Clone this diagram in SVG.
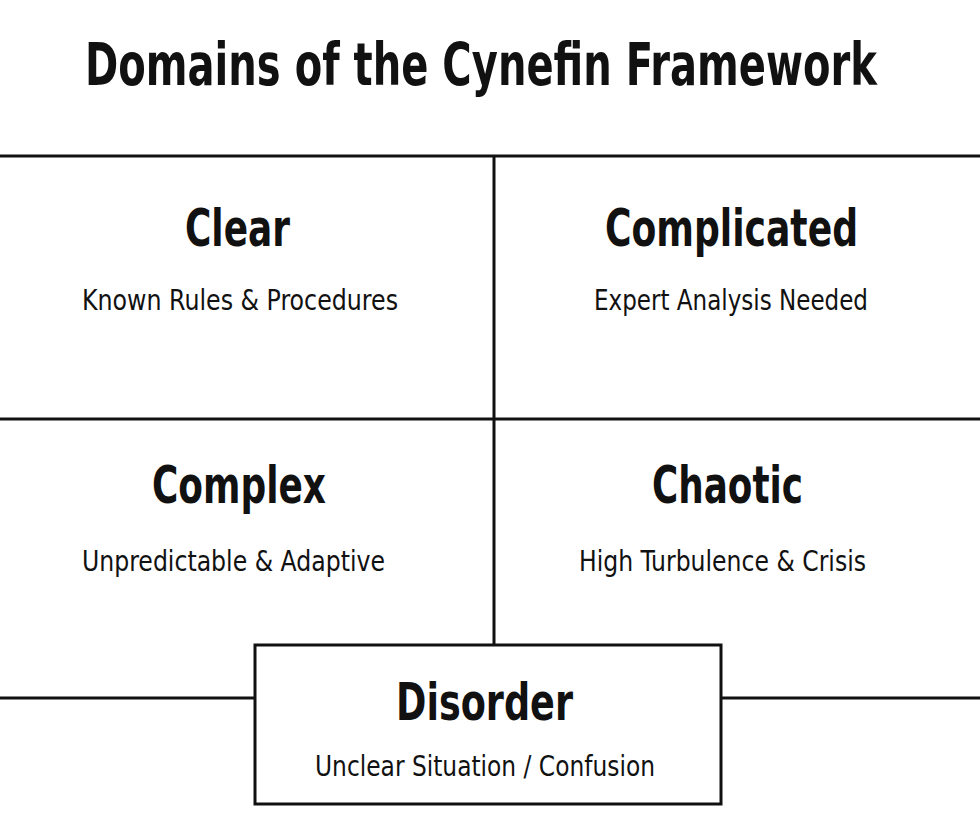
<svg xmlns="http://www.w3.org/2000/svg" width="980" height="820" viewBox="0 0 980 820">
<style>
.t{font-family:"DejaVu Sans Condensed","DejaVu Sans",sans-serif;fill:#111;text-anchor:middle}
.title{font-size:58px;font-weight:bold}
.h{font-size:52px;font-weight:bold}
.s{font-size:29px}
.ln{stroke:#111;stroke-width:3;fill:none}
</style>
<rect width="980" height="820" fill="#fff"/>
<text id="title" class="t title" transform="translate(481 85) scale(0.8 1)" x="0" y="0" textLength="990" lengthAdjust="spacingAndGlyphs">Domains of the Cynefin Framework</text>
<g id="connectors">
<line class="ln" x1="0" y1="156" x2="980" y2="156"/>
<line class="ln" x1="0" y1="419" x2="980" y2="419"/>
<line class="ln" x1="494" y1="156" x2="494" y2="645"/>
<line class="ln" x1="0" y1="698" x2="255" y2="698"/>
<line class="ln" x1="721" y1="698" x2="980" y2="698"/>
</g>
<g id="clear">
<text class="t h" x="237.5" y="246" textLength="105" lengthAdjust="spacingAndGlyphs">Clear</text>
<text class="t s" x="240" y="310" textLength="316" lengthAdjust="spacingAndGlyphs">Known Rules &amp; Procedures</text>
</g>
<g id="complicated">
<text class="t h" x="731.5" y="246" textLength="253" lengthAdjust="spacingAndGlyphs">Complicated</text>
<text class="t s" x="731" y="310" textLength="274" lengthAdjust="spacingAndGlyphs">Expert Analysis Needed</text>
</g>
<g id="complex">
<text class="t h" x="239" y="503" textLength="174" lengthAdjust="spacingAndGlyphs">Complex</text>
<text class="t s" x="233.5" y="571" textLength="303" lengthAdjust="spacingAndGlyphs">Unpredictable &amp; Adaptive</text>
</g>
<g id="chaotic">
<text class="t h" x="727.5" y="503" textLength="151" lengthAdjust="spacingAndGlyphs">Chaotic</text>
<text class="t s" x="722.5" y="571" textLength="287" lengthAdjust="spacingAndGlyphs">High Turbulence &amp; Crisis</text>
</g>
<g id="disorder">
<rect class="ln" x="255" y="645" width="466" height="159" fill="#fff"/>
<text class="t h" x="484.5" y="720" textLength="177" lengthAdjust="spacingAndGlyphs">Disorder</text>
<text class="t s" x="485" y="776" textLength="340" lengthAdjust="spacingAndGlyphs">Unclear Situation / Confusion</text>
</g>
</svg>
